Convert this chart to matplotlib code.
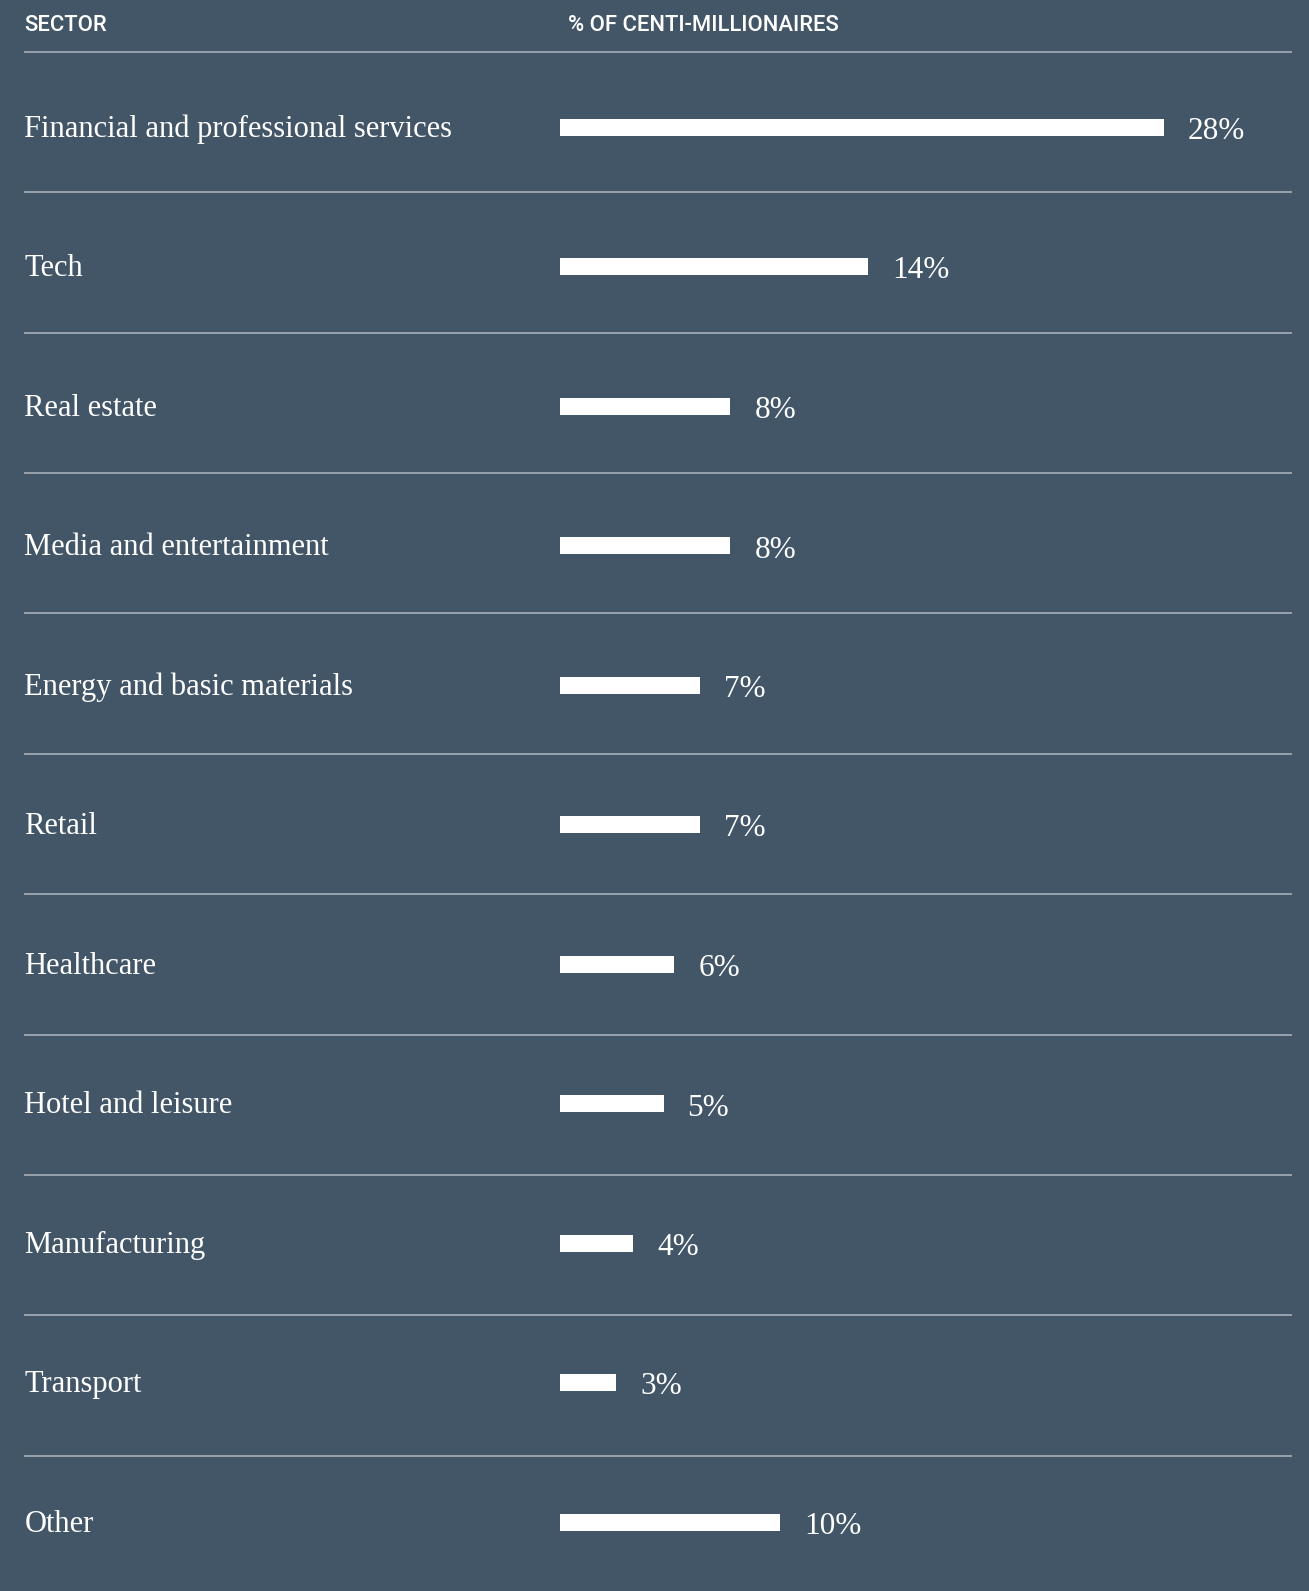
import matplotlib
matplotlib.use("Agg")
import matplotlib.pyplot as plt
from matplotlib.transforms import blended_transform_factory

sectors = ["Financial and professional services", "Tech", "Real estate",
           "Media and entertainment", "Energy and basic materials", "Retail",
           "Healthcare", "Hotel and leisure", "Manufacturing", "Transport", "Other"]
values = [28.0, 14.3, 7.9, 7.9, 6.5, 6.5, 5.3, 4.8, 3.4, 2.6, 10.2]
value_labels = ["28%", "14%", "8%", "8%", "7%", "7%", "6%", "5%", "4%", "3%", "10%"]
headers = ["SECTOR", "% OF CENTI-MILLIONAIRES"]

W, H, DPI = 1309, 1591, 100
BG = "#425668"
LINE = "#9ea8b2"

fig = plt.figure(figsize=(W / DPI, H / DPI), dpi=DPI, facecolor=BG)
ax = fig.add_axes([0, 0, 1, 1])
ax.set_facecolor(BG)

px_per_unit = 21.57
x0_px = 560
row_px = 139.5
first_px = 127.0
ax.set_xlim(-x0_px / px_per_unit, (W - x0_px) / px_per_unit)
top = -first_px / row_px
ax.set_ylim(top + H / row_px, top)
ax.axis("off")

def py(px):
    """figure pixel row (from top) -> data y"""
    return top + px / row_px

ypos = list(range(len(sectors)))
bar_h = 17 / row_px
ax.barh(ypos, values, height=bar_h, color="white", linewidth=0)

tr = blended_transform_factory(fig.transFigure, ax.transData)
serif = ["Liberation Serif", "DejaVu Serif"]
for i, (s, v, lab) in enumerate(zip(sectors, values, value_labels)):
    ax.text(24.4 / W, i + 9.5 / row_px, s, transform=tr, color="white", fontsize=22,
            family=serif, va="baseline", ha="left")
    ax.text(v, i + 12 / row_px, lab, color="white", fontsize=22.5, family=serif,
            va="baseline", ha="left",
            transform=ax.transData + matplotlib.transforms.ScaledTranslation(
                24 / DPI, 0, fig.dpi_scale_trans))

# separators
for k in range(len(sectors)):
    yk = py(51.75 + k * 140.4)
    ax.plot([24.4 / W, 1291.7 / W], [yk, yk], transform=tr,
            color=LINE, linewidth=1.3, solid_capstyle="butt")

# headers
hy = py(30.7)
ax.text(24.4 / W, hy, headers[0], transform=tr, color="white", fontsize=15.8,
        family=["Roboto", "DejaVu Sans"], fontweight="medium", va="baseline", ha="left")
ax.text(568 / W, hy, headers[1], transform=tr, color="white", fontsize=15.8,
        family=["Roboto", "DejaVu Sans"], fontweight="medium", va="baseline", ha="left")

fig.savefig("out.png", dpi=DPI, facecolor=BG)
